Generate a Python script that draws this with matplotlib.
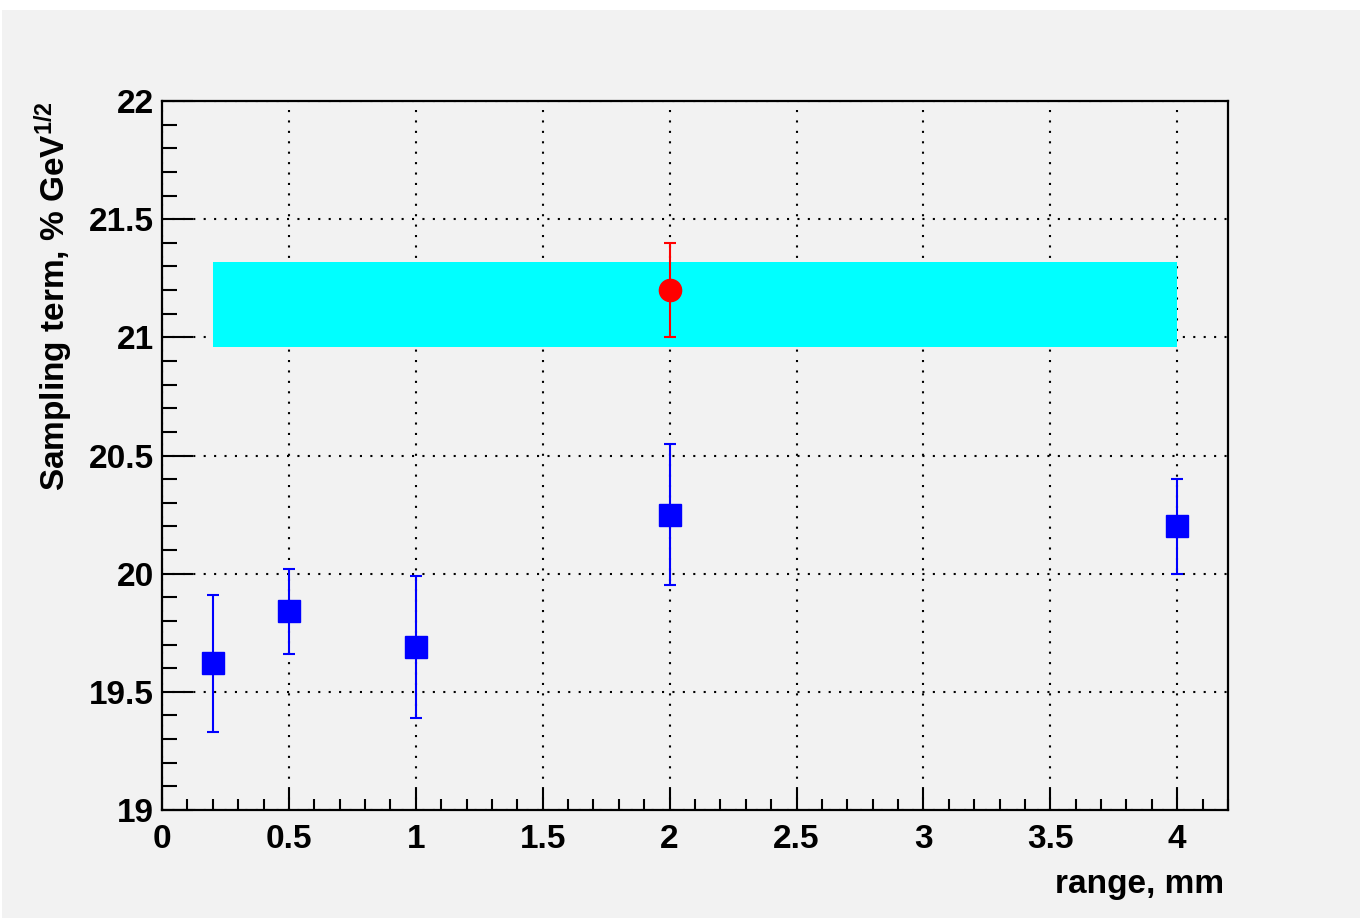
import matplotlib
matplotlib.use("Agg")
import matplotlib.pyplot as plt
from matplotlib.patches import Rectangle
from matplotlib.ticker import MultipleLocator, FuncFormatter

plt.rcParams['font.family'] = ['Liberation Sans', 'DejaVu Sans']
plt.rcParams['font.weight'] = 'bold'
plt.rcParams['mathtext.fontset'] = 'custom'
plt.rcParams['mathtext.rm'] = 'Liberation Sans:bold'
plt.rcParams['mathtext.bf'] = 'Liberation Sans:bold'
plt.rcParams['mathtext.default'] = 'rm'

# data
range_mm = [0.2, 0.5, 1, 2, 4]
sampling = [19.62, 19.84, 19.69, 20.25, 20.20]
sampling_err = [0.29, 0.18, 0.30, 0.30, 0.20]

ref_x = [2]
ref_y = [21.2]
ref_err = [0.2]

band_x = [0.2, 4]
band_lo = [20.96, 20.96]
band_hi = [21.32, 21.32]

bg = '#f2f2f2'
fig = plt.figure(figsize=(13.65, 9.18), dpi=100, facecolor='white')
# grey pad, white strip on top as in the original canvas
fig.patches.append(Rectangle((0.0015, 0), 0.995, 0.989, transform=fig.transFigure,
                             facecolor=bg, edgecolor='none', zorder=-10))
ax = fig.add_axes([162/1365, 1-810/918, (1228-162)/1365, (810-101)/918])
ax.set_facecolor(bg)

ax.fill_between(band_x, band_lo, band_hi, color='#00ffff', lw=0, zorder=1.5)
ax.errorbar(range_mm, sampling, yerr=sampling_err, fmt='s', color='#0000ff',
            ms=16, elinewidth=1.5, capsize=4.5, capthick=1.5, zorder=3)
ax.errorbar(ref_x, ref_y, yerr=ref_err, fmt='o', color='#ff0000',
            ms=16, elinewidth=1.5, capsize=4.5, capthick=1.5, zorder=3)

ax.set_xlim(0, 4.2)
ax.set_ylim(19, 22)
ax.xaxis.set_major_locator(MultipleLocator(0.5))
ax.xaxis.set_minor_locator(MultipleLocator(0.1))
ax.yaxis.set_major_locator(MultipleLocator(0.5))
ax.yaxis.set_minor_locator(MultipleLocator(0.1))
fmt = FuncFormatter(lambda v, p: '%g' % v)
ax.xaxis.set_major_formatter(fmt)
ax.yaxis.set_major_formatter(fmt)

ax.set_axisbelow(True)
ax.grid(True, which='major', color='black', linestyle=(0, (1, 4)), linewidth=1.5)

ax.tick_params(axis='x', which='major', direction='in', length=15, width=1.5,
               labelsize=24, pad=10, top=False)
ax.tick_params(axis='x', which='minor', direction='in', length=8, width=1.5, top=False)
ax.tick_params(axis='y', which='major', direction='in', length=22, width=1.5,
               labelsize=24, pad=6, right=False)
ax.tick_params(axis='y', which='minor', direction='in', length=11, width=1.5, right=False)
for s in ax.spines.values():
    s.set_linewidth(1.6)

ax.set_xlabel('range, mm', fontsize=24, fontweight='bold')
ax.xaxis.label.set_horizontalalignment('right')
ax.xaxis.set_label_coords((1224-162)/(1228-162), -0.083)
ax.set_ylabel('Sampling term, % GeV$^{1/2}$', fontsize=24, fontweight='bold',
              loc='top', labelpad=10)

fig.savefig('out.png', dpi=100, facecolor='white')
